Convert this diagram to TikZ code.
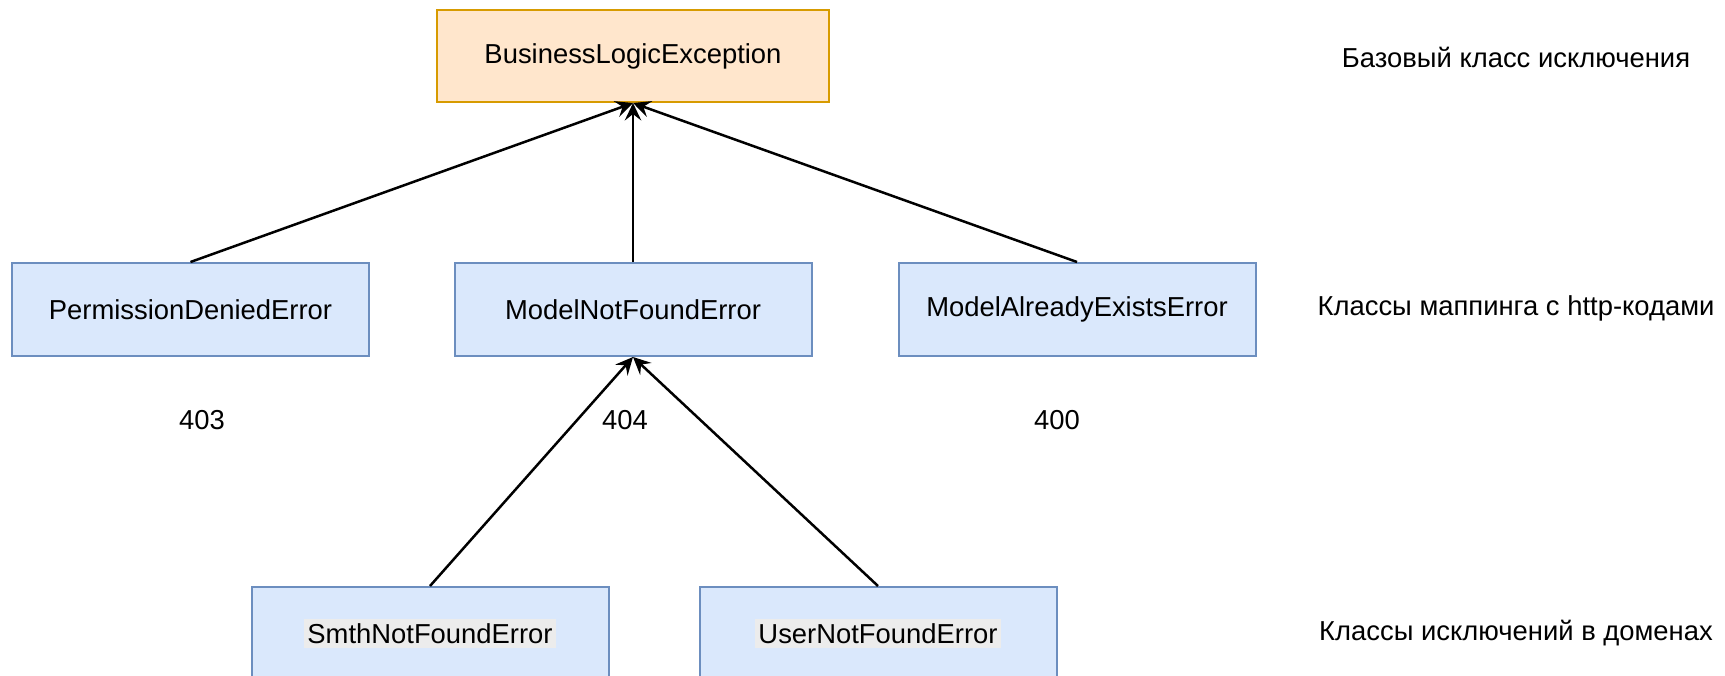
\documentclass[tikz,border=0pt]{standalone}
\usepackage{fontspec}
\setmainfont{Liberation Sans}
\usetikzlibrary{arrows.meta}

\definecolor{baseFill}{HTML}{FFE6CC}
\definecolor{baseLine}{HTML}{D79B00}
\definecolor{clsFill}{HTML}{DAE8FC}
\definecolor{clsLine}{HTML}{6C8EBF}
\definecolor{hiFill}{HTML}{ECECEC}

\tikzset{
  basebox/.style={draw=baseLine, fill=baseFill, line width=0.8pt,
    minimum width=156.8pt, minimum height=36.8pt, inner sep=0pt},
  clsbox/.style={draw=clsLine, fill=clsFill, line width=0.8pt,
    minimum width=142.8pt, minimum height=37.2pt, inner sep=0pt},
  hilite/.style={fill=hiFill, inner xsep=1.3pt, inner ysep=1.8pt},
  plain/.style={inner sep=0pt},
  inherit/.style={-{Stealth[length=7pt, width=6.6pt, inset=2.6pt]}, line width=1pt, black},
}

\begin{document}
\begin{tikzpicture}[x=0.4pt, y=-0.4pt, font=\fontsize{10.96pt}{13pt}\selectfont]
  \useasboundingbox (0,0) rectangle (1725,675);

  % base class
  \node[basebox] (base) at (633,56) {BusinessLogicException};

  % classes mapped to http codes
  \node[clsbox] (perm) at (190.5,309.5) {PermissionDeniedError};
  \node[clsbox] (mnf)  at (633,309.5)   {ModelNotFoundError};
  \node[clsbox] (mae)  at (1077,309.5)  {ModelAlreadyExistsError};

  % domain exceptions
  \node[clsbox] (smth) at (430,633.5) {};
  \node[hilite] (smthT) at (smth.center) {SmthNotFoundError};
  \node[clsbox] (user) at (878,633.5) {};
  \node[hilite] (userT) at (user.center) {UserNotFoundError};

  % http codes
  \node[plain] (c403) at (202,420)  {403};
  \node[plain] (c404) at (625,420)  {404};
  \node[plain] (c400) at (1057,420) {400};

  % level captions
  \node[plain] (capBase) at (1516,57)    {Базовый класс исключения};
  \node[plain] (capMap)  at (1516,308.5) {Классы маппинга с http-кодами};
  \node[plain] (capDom)  at (1516,633)   {Классы исключений в доменах};

  % inheritance arrows
  \draw[inherit] (perm.north) -- (base.south);
  \draw[inherit] (mnf.north)  -- (base.south);
  \draw[inherit] (mae.north)  -- (base.south);
  \draw[inherit] (smth.north) -- (mnf.south);
  \draw[inherit] (user.north) -- (mnf.south);
\end{tikzpicture}
\end{document}
